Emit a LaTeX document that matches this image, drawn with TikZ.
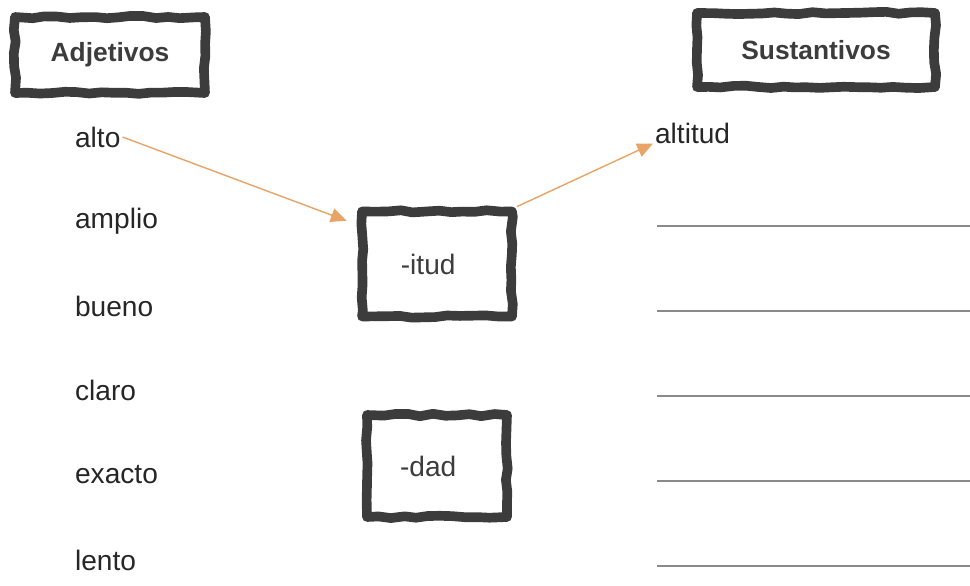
\documentclass[tikz,border=0pt]{standalone}
\usepackage{fontspec}
\setmainfont{Liberation Sans}
\usetikzlibrary{positioning, arrows.meta, decorations.pathmorphing}

\definecolor{frame}{HTML}{3C3C3C}
\definecolor{arrowcol}{HTML}{E8A466}
\definecolor{linecol}{HTML}{8A8A8A}

\tikzset{
	roughbox/.style={draw=frame, line width=5.5pt, line join=round, inner sep=0pt,
		decorate, decoration={random steps, segment length=7pt, amplitude=0.7pt}},
	header/.style={roughbox, font=\fontsize{15}{18}\selectfont\bfseries, text=frame},
	suffix/.style={roughbox, font=\fontsize{16}{19}\selectfont, text=frame},
	word/.style={anchor=west, inner sep=1pt, font=\fontsize{16}{19}\selectfont, text=black!85},
	arr/.style={draw=arrowcol, line width=0.8pt, -{Triangle[length=9pt,width=8pt]}}
}

\begin{document}
\pgfmathsetseed{7}
\begin{tikzpicture}[x=0.02cm, y=-0.02cm]
	\useasboundingbox (0,0) rectangle (970,585);

	% headings
	\node[header, minimum width=3.8cm, minimum height=1.52cm] (adj) at (110,55) {Adjetivos};
	\node[header, minimum width=4.76cm, minimum height=1.48cm] (sus) at (816,50) {Sustantivos};

	% adjectives
	\node[word] (alto) at (73,137) {alto};
	\node[word] (amplio) at (73,221) {amplio};
	\node[word] (bueno) at (73,306) {bueno};
	\node[word] (claro) at (73,390) {claro};
	\node[word] (exacto) at (73,475) {exacto};
	\node[word] (lento) at (73,560) {lento};

	% suffixes
	\node[suffix, minimum width=3.0cm, minimum height=2.1cm] (itud) at (437,264) {\hspace*{-10pt}-itud};
	\node[suffix, minimum width=2.8cm, minimum height=2.04cm] (dad) at (437,466) {\hspace*{-10pt}-dad};

	% nouns
	\node[word] (altitud) at (653,133) {altitud};
	\foreach \y in {226,311,396,481,566}
		\draw[linecol, line width=0.7pt] (657,\y) -- (970,\y);

	% connectors
	\draw[arr] (alto.east) -- ([xshift=-6pt,yshift=-8pt]itud.north west);
	\draw[arr] (itud.north east) -- ([yshift=-6pt]altitud.west);
\end{tikzpicture}
\end{document}
